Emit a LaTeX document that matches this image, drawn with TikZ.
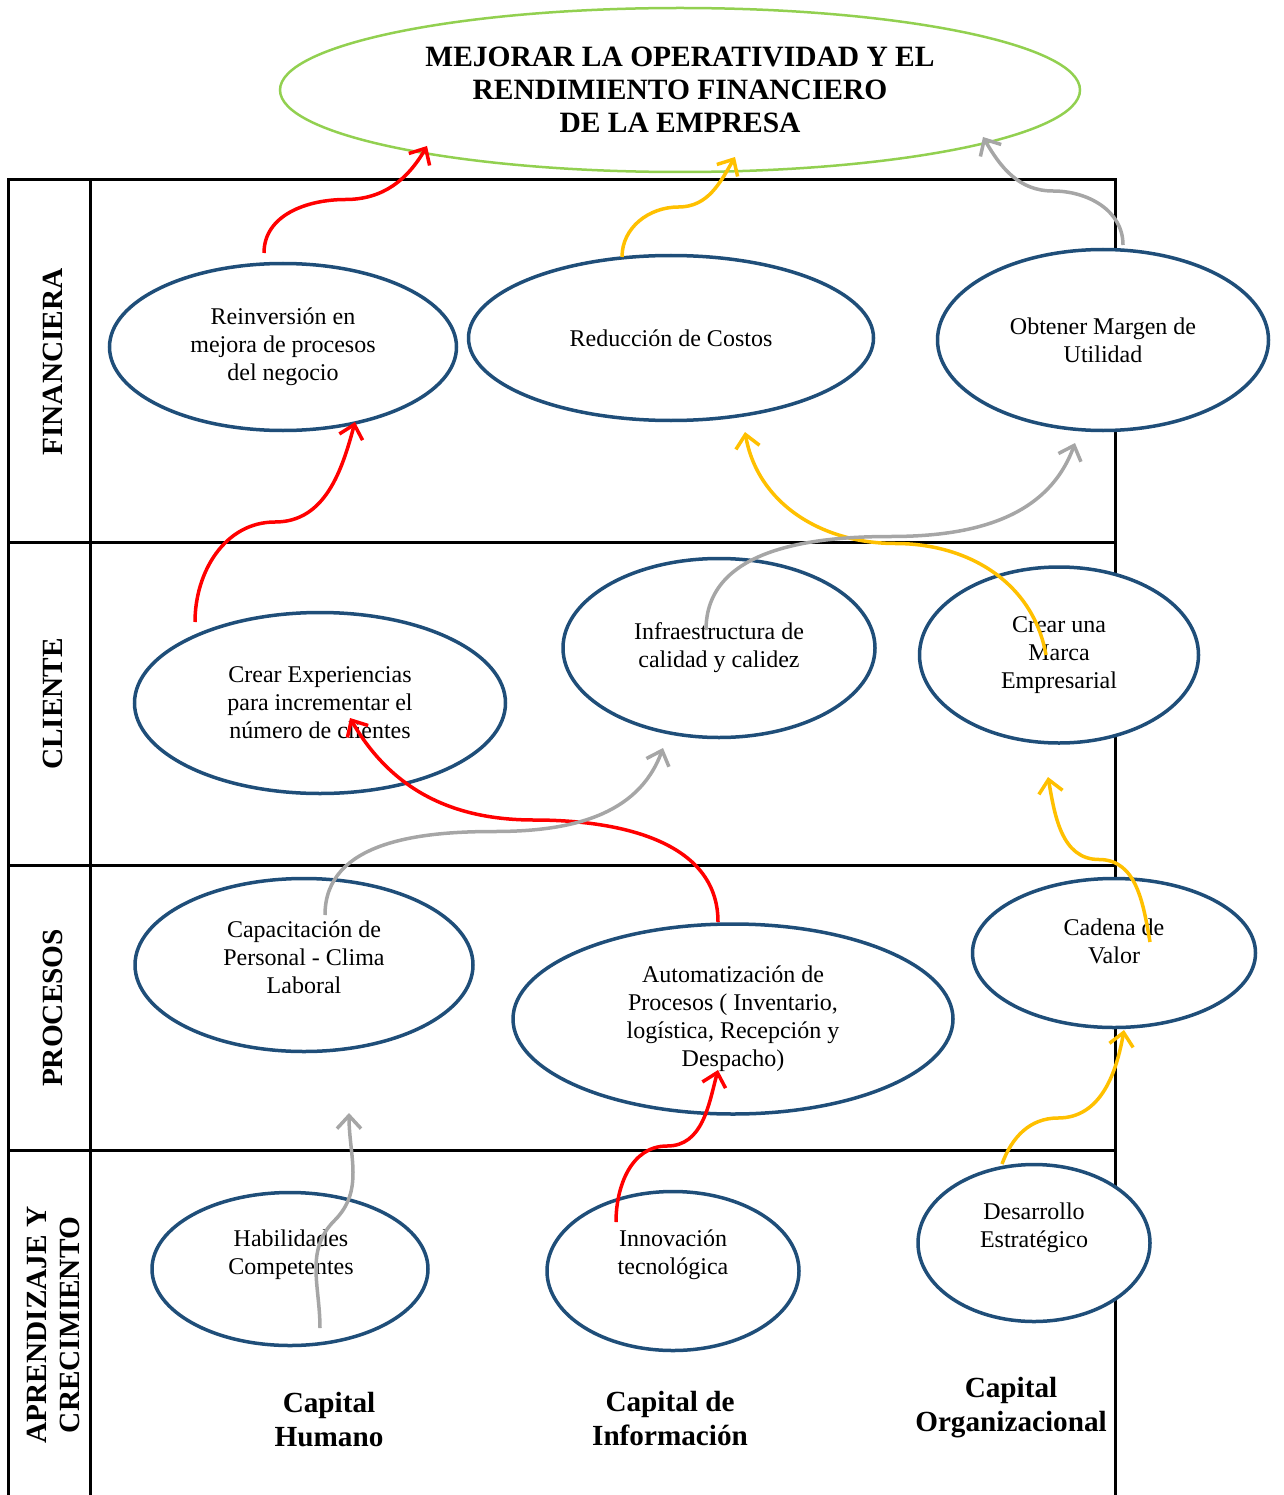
\documentclass[tikz,border=0pt]{standalone}
\usepackage{fontspec}
\setmainfont{Liberation Serif}
\usetikzlibrary{arrows.meta,calc,shapes.geometric}
\definecolor{azul}{RGB}{31,78,121}
\definecolor{verde}{RGB}{146,208,80}
\definecolor{amarillo}{RGB}{255,192,0}
\definecolor{gris}{RGB}{166,166,166}
\definecolor{rojo}{RGB}{255,0,0}
\tikzset{
    marco/.style={draw=black, line width=3pt},
    meta/.style={
      ellipse,
      draw=verde, line width=2.5pt,
      fill=white,
      minimum width=800pt,
      minimum height=164pt,
      align=center,
      font=\fontsize{29.5}{33}\selectfont\bfseries},
    objetivo/.style={
      ellipse,
      draw=azul, line width=3.5pt,
      fill=white,
      inner sep=0pt,
      align=center,
      font=\fontsize{24}{28}\selectfont},
    texto/.style={align=center, font=\fontsize{24}{28}\selectfont},
    perspectiva/.style={rotate=90, align=center, font=\fontsize{29.3}{33}\selectfont\bfseries},
    capital/.style={align=center, font=\fontsize{29.2}{34}\selectfont\bfseries},
    flecha/.style={line width=3.5pt, -{Straight Barb[length=13pt,width=24pt]}},
}

\begin{document}
\begin{tikzpicture}[x=1pt, y=-1pt]
\useasboundingbox (0,0) rectangle (1283,1495);

% tabla de perspectivas
\draw[marco] (8,1495) -- (8,180) -- (1115,180) -- (1115,1495);
\draw[marco] (90,180) -- (90,1495);
\foreach \y in {542,865,1150}
  \draw[marco] (8,\y) -- (1115,\y);

\node[meta] (meta) at (680,90) {MEJORAR LA OPERATIVIDAD Y EL\\RENDIMIENTO FINANCIERO\\DE LA EMPRESA};

\node[perspectiva] (financiera) at (53,362) {FINANCIERA};
\node[perspectiva] (cliente) at (53,704) {CLIENTE};
\node[perspectiva] (procesos) at (53,1008) {PROCESOS};
\node[perspectiva] (aprendizaje) at (53,1325) {APRENDIZAJE Y\\CRECIMIENTO};

% objetivos
\node[objetivo, minimum width=347pt, minimum height=167pt] (reinv) at (283,347) {Reinversión en\\mejora de procesos\\del negocio};
\node[objetivo, minimum width=405pt, minimum height=165pt] (costos) at (671,338) {Reducción de Costos};
\node[objetivo, minimum width=331pt, minimum height=181pt] (margen) at (1103,340) {Obtener Margen de\\Utilidad};
\node[objetivo, minimum width=371pt, minimum height=181pt] (experiencias) at (320,703) {Crear Experiencias\\para incrementar el\\número de clientes};
\node[objetivo, minimum width=312pt, minimum height=179pt] (infra) at (719,648) {Infraestructura de\\calidad y calidez};
\node[objetivo, minimum width=279pt, minimum height=176pt] (marca) at (1059,655) {Crear una\\Marca\\Empresarial};
\node[objetivo, minimum width=338pt, minimum height=173pt] (capacitacion) at (304,965) {};
\node[texto] (capacitacion-t) at (304,957) {Capacitación de\\Personal - Clima\\Laboral};
\node[objetivo, minimum width=440pt, minimum height=190pt] (automat) at (733,1019) {Automatización de\\Procesos ( Inventario,\\logística, Recepción y\\Despacho)};
\node[objetivo, minimum width=283pt, minimum height=149pt] (cadena) at (1114,953) {};
\node[texto] (cadena-t) at (1114,941) {Cadena de\\Valor};
\node[objetivo, minimum width=276pt, minimum height=153pt] (habilidades) at (290,1269) {};
\node[texto] (habilidades-t) at (291,1255) {Habilidades\\Competentes};
\node[objetivo, minimum width=252pt, minimum height=159pt] (innovacion) at (673,1271) {};
\node[texto] (innovacion-t) at (673,1255) {Innovación\\tecnológica};
\node[objetivo, minimum width=232pt, minimum height=157pt] (desarrollo) at (1034,1243) {};
\node[texto] (desarrollo-t) at (1034,1228) {Desarrollo\\Estratégico};

\node[capital] (humano) at (329,1420) {Capital\\Humano};
\node[capital] (informacion) at (670,1418) {Capital de\\Información};
\node[capital] (organizacional) at (1011,1408) {Capital\\Organizacional};

% extremos de las flechas
\coordinate (reinv-s) at (264,253);
\coordinate (meta-r) at (427,146);
\coordinate (costos-s) at (622,257);
\coordinate (meta-a) at (735,157);
\coordinate (margen-s) at (1123,245);
\coordinate (meta-g) at (983,137);
\coordinate (experiencias-s) at (195,622);
\coordinate (reinv-e) at (355,422);
\coordinate (marca-s) at (1046,655);
\coordinate (costos-e) at (745,432);
\coordinate (infra-s) at (706,630);
\coordinate (margen-e) at (1075,443);
\coordinate (automat-s) at (718,922);
\coordinate (experiencias-e) at (350,718);
\coordinate (capacitacion-s) at (325,915);
\coordinate (infra-e) at (663,748);
\coordinate (cadena-s) at (1150,942);
\coordinate (marca-e) at (1048,777);
\coordinate (habilidades-s) at (320,1328);
\coordinate (capacitacion-e) at (349,1113);
\coordinate (innovacion-s) at (616,1222);
\coordinate (automat-e) at (718,1070);
\coordinate (desarrollo-s) at (1002,1164);
\coordinate (cadena-e) at (1124,1030);

\draw[flecha, rojo] (reinv-s) to[out=90,in=180] ($(reinv-s)!.5!(meta-r)$) to[out=0,in=-120] (meta-r);
\draw[flecha, amarillo] (costos-s) to[out=90,in=180] ($(costos-s)!.5!(meta-a)$) to[out=0,in=-120] (meta-a);
\draw[flecha, gris] (margen-s) to[out=90,in=0] ($(margen-s)!.5!(meta-g)$) to[out=180,in=-60] (meta-g);
\draw[flecha, rojo] (experiencias-s) to[out=90,in=180] ($(experiencias-s)!.5!(reinv-e)$) to[out=0,in=-105] (reinv-e);
\draw[flecha, amarillo] (marca-s) to[out=100,in=0] ($(marca-s)!.5!(costos-e)$) to[out=180,in=-80] (costos-e);
\draw[flecha, gris] (infra-s) to[out=90,in=180] ($(infra-s)!.5!(margen-e)$) to[out=0,in=-110] (margen-e);
\draw[flecha, rojo] (automat-s) to[out=90,in=0] ($(automat-s)!.5!(experiencias-e)$) to[out=180,in=-60] (experiencias-e);
\draw[flecha, gris] (capacitacion-s) to[out=90,in=180] ($(capacitacion-s)!.5!(infra-e)$) to[out=0,in=-110] (infra-e);
\draw[flecha, amarillo] (cadena-s) to[out=100,in=0] ($(cadena-s)!.5!(marca-e)$) to[out=180,in=-80] (marca-e);
\draw[flecha, gris] (habilidades-s) to[out=90,in=-135] ($(habilidades-s)!.5!(capacitacion-e)$) to[out=45,in=-90] (capacitacion-e);
\draw[flecha, rojo] (innovacion-s) to[out=90,in=180] ($(innovacion-s)!.5!(automat-e)$) to[out=0,in=-105] (automat-e);
\draw[flecha, amarillo] (desarrollo-s) to[out=70,in=180] ($(desarrollo-s)!.5!(cadena-e)+(-5,21)$) to[out=0,in=-100] (cadena-e);
\end{tikzpicture}
\end{document}
